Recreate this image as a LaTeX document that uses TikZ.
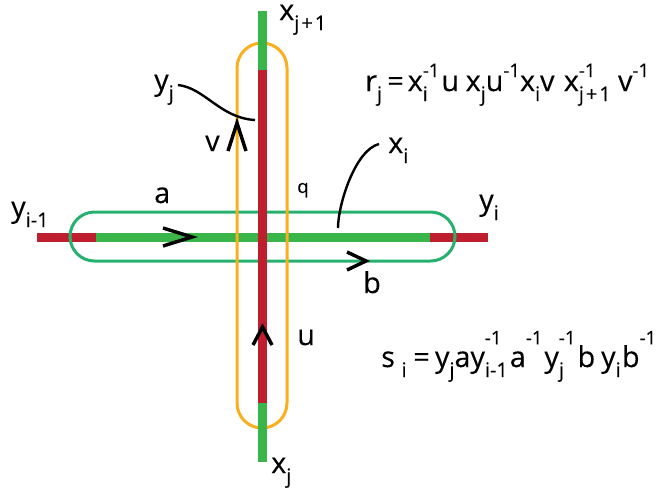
\documentclass[tikz,border=0pt]{standalone}
\usepackage{fontspec}
\setmainfont{Open Sans}[FakeBold=0.3]
\definecolor{barred}{RGB}{190,30,45}
\definecolor{bargreen}{RGB}{57,181,74}
\definecolor{loopgreen}{RGB}{38,178,110}
\definecolor{looporange}{RGB}{250,175,30}
\newcommand\Lo[1]{\raisebox{-7.5pt}{\fontsize{15}{15}\selectfont #1}}
\newcommand\Hi[1]{\raisebox{10.5pt}{\fontsize{14}{14}\selectfont #1}}
\newcommand\HL[2]{\setbox0\hbox{\Hi{#1}}\setbox2\hbox{\Lo{#2}}\ifdim\wd0>\wd2 \rlap{\box2}\box0 \else\rlap{\box0}\box2 \fi}
\newcommand\HiS[1]{\raisebox{17pt}{\fontsize{14}{14}\selectfont #1}}
\newcommand\HLS[2]{\setbox0\hbox{\HiS{#1}}\setbox2\hbox{\Lo{#2}}\ifdim\wd0>\wd2 \rlap{\box2}\box0 \else\rlap{\box0}\box2 \fi}
\newcommand\jpo{j\kern1.5pt+\kern1.5pt1}
\tikzset{
  lbl/.style={anchor=base west, inner sep=0pt, font=\fontsize{21.5}{21.5}\selectfont},
  bar/.style={line width=6.75pt},
  loopline/.style={line width=2.25pt},
  chev/.style={line width=2.6pt, black, miter limit=10},
  leader/.style={line width=1.8pt, black},
}
\begin{document}
\begin{tikzpicture}[x=0.75pt,y=-0.75pt]
\useasboundingbox (0,0) rectangle (656,487);
% horizontal bar
\draw[bar,barred] (37,237) -- (96,237);
\draw[bar,bargreen] (96,237) -- (430,237);
\draw[bar,barred] (430,237) -- (488,237);
% loops
\draw[loopline,loopgreen] (94.5,212) -- (430.5,212)
  arc[start angle=-90, end angle=90, radius=24.5] -- (94.5,261)
  arc[start angle=90, end angle=270, radius=24.5] -- cycle;
\draw[loopline,looporange] (237,68)
  arc[start angle=180, end angle=360, radius=25] -- (287,403)
  arc[start angle=0, end angle=180, radius=25] -- cycle;
% vertical bar
\draw[bar,bargreen] (262.5,11) -- (262.5,70);
\draw[bar,barred] (262.5,70) -- (262.5,403);
\draw[bar,bargreen] (262.5,403) -- (262.5,462);
% arrows
\draw[chev] (163,228) -- (192,237) -- (163,246);
\draw[chev] (347,252) -- (366,261) -- (347,270);
\draw[chev] (228,151) -- (237,123) -- (246,151);
\draw[chev] (253,345) -- (262.5,327) -- (272,345);
% labels
\node[lbl] (xj1) at (279,20) {x\Lo{\jpo}};
\node[lbl] (yj) at (154,90) {y\Lo{j}};
\node[lbl] (v) at (205,151) {v};
\node[lbl] (a) at (154,203) {a};
\node[lbl] (yim1) at (11,217) {y\Lo{i-1}};
\node[lbl] (yi) at (479,210) {y\Lo{i}};
\node[lbl] (b) at (363,293) {b};
\node[lbl] (q) at (297,193) {\fontsize{14}{14}\selectfont q};
\node[lbl] (xi) at (388,153) {x\Lo{i}};
\node[lbl] (u) at (297,345) {u};
\node[lbl] (xj) at (271,473) {x\Lo{j}};
\node[lbl] (rj) at (365,91) {r\Lo{j}\hspace{4pt}=\hspace{3pt}x\HL{-1}{i}\hspace{1.5pt}u\hspace{5pt}x\Lo{j}u\Hi{-1}x\Lo{i}v\hspace{7pt}x\HL{-1}{\jpo}\hspace{5.5pt}v\Hi{-1}};
\node[lbl] (si) at (381,367) {s\hspace{5pt}\Lo{i}\hspace{5pt}=\hspace{4pt}y\Lo{j}ay\HLS{-1}{i-1}\hspace{1.5pt}a\HiS{-1}\hspace{1.5pt}y\HLS{-1}{j}\hspace{1.5pt}b\hspace{4.5pt}y\Lo{i}\hspace{1pt}b\HiS{-1}};
% leaders
\coordinate (yjend) at (255,120);
\coordinate (xiend) at (338,228);
\draw[leader] (yj.base east) ++(4,-5) coordinate (yjs) .. controls (205,88) and (220,118) .. (yjend);
\draw[leader] (xi.base west) ++(-9,-9) coordinate (xis) .. controls (355,150) and (338,205) .. (xiend);
\end{tikzpicture}
\end{document}
